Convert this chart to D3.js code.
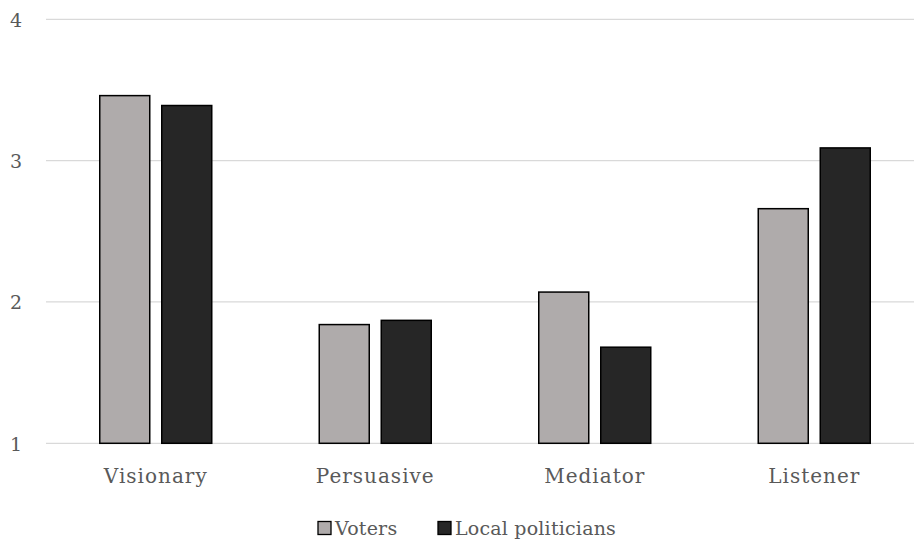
<!DOCTYPE html>
<html>
<head>
<meta charset="utf-8">
<script src="https://cdn.jsdelivr.net/npm/d3@7"></script>
<style>
  html, body { margin: 0; padding: 0; background: #fff; overflow: hidden; }
  svg { display: block; }
  text { font-family: "DejaVu Serif", "Liberation Serif", serif; fill: #595959; }
</style>
</head>
<body>
<svg id="chart" width="914" height="542"></svg>
<script>
// Leadership roles and mean ratings per group
const categories = ["Visionary", "Persuasive", "Mediator", "Listener"];
const seriesNames = ["Voters", "Local politicians"];
const voters = [3.46, 1.84, 2.07, 2.66];
const localPoliticians = [3.39, 1.87, 1.68, 3.09];
const yTicks = [1, 2, 3, 4];
const colors = ["#AFABAB", "#262626"];

const seriesValues = [voters, localPoliticians];

const svg = d3.select("#chart");
const W = 914;
const plotLeft = 46, plotRight = 924;   // plot area runs slightly past the right edge
const yBase = 443.3, yTop = 19.3;
const pairWidth = 112;

const x = d3.scaleBand()
  .domain(categories)
  .range([plotLeft, plotRight]);

const xInner = d3.scaleBand()
  .domain(seriesNames)
  .range([0, pairWidth])
  .paddingInner(12 / 62);

const y = d3.scaleLinear()
  .domain([1, 4])
  .range([yBase, yTop]);

// Horizontal gridlines
svg.append("g")
  .selectAll("line")
  .data(yTicks)
  .join("line")
  .attr("x1", plotLeft)
  .attr("x2", W)
  .attr("y1", d => y(d))
  .attr("y2", d => y(d))
  .attr("stroke", "#D9D9D9")
  .attr("stroke-width", 1.3);

// Y axis labels
const yAxis = d3.axisLeft(y).tickValues(yTicks).tickSize(0).tickPadding(0).tickFormat(d3.format("d"));
const yg = svg.append("g").attr("transform", "translate(22,0)").call(yAxis);
yg.select(".domain").remove();
yg.selectAll("text")
  .style("font-size", "19px")
  .attr("fill", "#595959")
  .attr("dy", "0.36em");

// Bars
const groups = svg.append("g")
  .selectAll("g")
  .data(categories)
  .join("g")
  .attr("transform", d => `translate(${x(d) + (x.bandwidth() - pairWidth) / 2},0)`);

groups.selectAll("rect")
  .data((d, i) => seriesNames.map((s, j) => ({ s, v: seriesValues[j][i], j })))
  .join("rect")
  .attr("x", d => xInner(d.s))
  .attr("width", xInner.bandwidth())
  .attr("y", d => y(d.v))
  .attr("height", d => y(1) - y(d.v))
  .attr("fill", d => colors[d.j])
  .attr("stroke", "#000")
  .attr("stroke-width", 1.5);

// Category labels
const xAxis = d3.axisBottom(x).tickSize(0).tickPadding(0);
const xg = svg.append("g").attr("transform", `translate(0,${y(1) + 40})`).call(xAxis);
xg.select(".domain").remove();
xg.selectAll("text")
  .style("font-size", "20px")
  .style("letter-spacing", "1px")
  .attr("fill", "#595959")
  .attr("dy", "0");

// Legend
const legend = svg.append("g").attr("transform", "translate(318,528)");
const legendX = [0, 120];
const li = legend.selectAll("g")
  .data(seriesNames)
  .join("g")
  .attr("transform", (d, i) => `translate(${legendX[i]},0)`);
li.append("rect")
  .attr("x", 0)
  .attr("y", -6.5)
  .attr("width", 13)
  .attr("height", 13)
  .attr("fill", (d, i) => colors[i])
  .attr("stroke", "#000")
  .attr("stroke-width", 1.3);
li.append("text")
  .attr("x", 17)
  .attr("y", 7)
  .style("font-size", "19px")
  .style("letter-spacing", "0.2px")
  .text(d => d);
</script>
</body>
</html>
